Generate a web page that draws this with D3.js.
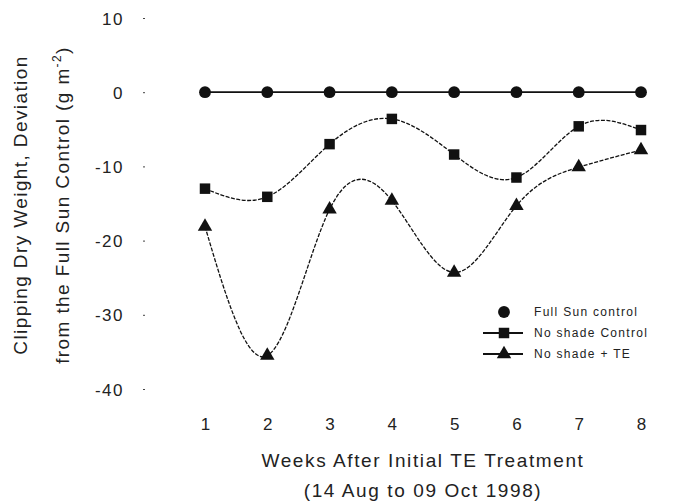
<!DOCTYPE html>
<html>
<head>
<meta charset="utf-8">
<script src="https://d3js.org/d3.v7.min.js"></script>
<style>
  body { margin: 0; background: #fff; }
  svg text { font-family: "Liberation Sans", Arial, sans-serif; fill: #222; }
</style>
</head>
<body>
<div id="chart"></div>
<script>
// weeks after initial TE treatment
var weeks = [1, 2, 3, 4, 5, 6, 7, 8];
var fullSun = [0, 0, 0, 0, 0, 0, 0, 0];
var shadeControl = [-13.0, -14.1, -7.0, -3.6, -8.4, -11.5, -4.6, -5.1];
var shadeTE = [-18.1, -35.5, -15.8, -14.6, -24.3, -15.3, -10.1, -7.8];
var yTicks = [10, 0, -10, -20, -30, -40];
var seriesNames = ["Full Sun control", "No shade Control", "No shade + TE"];

var width = 674, height = 502;

var x = d3.scaleLinear().domain([1, 8]).range([205, 641]);
var y = d3.scaleLinear().domain([-40, 10]).range([389, 18]);

var svg = d3.select("#chart").append("svg")
  .attr("width", width)
  .attr("height", height);

// y axis: no line, just small dots for ticks
var yAxis = svg.append("g")
  .attr("transform", "translate(145,0)")
  .call(d3.axisLeft(y).tickValues(yTicks).tickSize(2).tickPadding(19)
    .tickFormat(function(d) { return String(d); }));
yAxis.select(".domain").remove();
yAxis.selectAll("line").attr("stroke", "#444");
yAxis.selectAll("text").style("font-size", "17px").style("letter-spacing", "1.5px").attr("dy", "0.36em");

// x axis labels only
var xAxis = svg.append("g")
  .attr("transform", "translate(0,389)")
  .call(d3.axisBottom(x).tickValues(weeks).tickSize(0).tickFormat(d3.format("d")));
xAxis.select(".domain").remove();
xAxis.selectAll("text").style("font-size", "17px").attr("y", 41).attr("dy", 0);

// axis titles
svg.append("text")
  .attr("x", 423).attr("y", 467)
  .attr("text-anchor", "middle")
  .style("font-size", "19px").style("letter-spacing", "1.6px")
  .text("Weeks After Initial TE Treatment");
svg.append("text")
  .attr("x", 423).attr("y", 497)
  .attr("text-anchor", "middle")
  .style("font-size", "19px").style("letter-spacing", "1.6px")
  .text("(14 Aug to 09 Oct 1998)");

svg.append("text")
  .attr("transform", "translate(27,205) rotate(-90)")
  .attr("text-anchor", "middle")
  .style("font-size", "19px").style("letter-spacing", "1.4px")
  .text("Clipping Dry Weight, Deviation");
var t2 = svg.append("text")
  .attr("transform", "translate(69,205) rotate(-90)")
  .attr("text-anchor", "middle")
  .style("font-size", "19px").style("letter-spacing", "1.4px");
t2.append("tspan").text("from the Full Sun Control (g m");
t2.append("tspan").attr("dy", -8).style("font-size", "12px").text("-2");
t2.append("tspan").attr("dy", 8).text(")");

// lines
var line = d3.line()
  .x(function(d, i) { return x(weeks[i]); })
  .y(function(d) { return y(d); })
  .curve(d3.curveNatural);

var plot = svg.append("g");

plot.append("path").datum(fullSun)
  .attr("d", line.curve(d3.curveLinear))
  .attr("fill", "none").attr("stroke", "#111").attr("stroke-width", 1.8);

line.curve(d3.curveNatural);
plot.append("path").datum(shadeControl)
  .attr("d", line)
  .attr("fill", "none").attr("stroke", "#111").attr("stroke-width", 1.3)
  .attr("stroke-dasharray", "4,1.5");
plot.append("path").datum(shadeTE)
  .attr("d", line)
  .attr("fill", "none").attr("stroke", "#111").attr("stroke-width", 1.3)
  .attr("stroke-dasharray", "4,1.5");

var sym = {
  circle: d3.symbol().type(d3.symbolCircle).size(110),
  square: d3.symbol().type(d3.symbolSquare).size(110),
  triangle: d3.symbol().type(d3.symbolTriangle).size(90)
};

function markers(data, s) {
  plot.append("g").selectAll("path")
    .data(data)
    .enter().append("path")
    .attr("d", s)
    .attr("fill", "#111")
    .attr("transform", function(d, i) { return "translate(" + x(weeks[i]) + "," + y(d) + ")"; });
}
markers(fullSun, sym.circle);
markers(shadeControl, sym.square);
markers(shadeTE, sym.triangle);

// legend
var legend = svg.append("g").attr("transform", "translate(483,312)");
var legendSyms = [sym.circle, sym.square, sym.triangle];
seriesNames.forEach(function(name, i) {
  var row = legend.append("g").attr("transform", "translate(0," + (i * 21) + ")");
  if (i > 0) {
    row.append("line").attr("x1", 0).attr("x2", 40).attr("y1", 0).attr("y2", 0)
      .attr("stroke", "#111").attr("stroke-width", 1.8);
  }
  row.append("path").attr("d", legendSyms[i]).attr("transform", "translate(21,0)").attr("fill", "#111");
  row.append("text").attr("x", 51).attr("y", 0).attr("dy", "0.35em")
    .style("font-size", "12px").style("letter-spacing", "1.3px")
    .text(name);
});
</script>
</body>
</html>
